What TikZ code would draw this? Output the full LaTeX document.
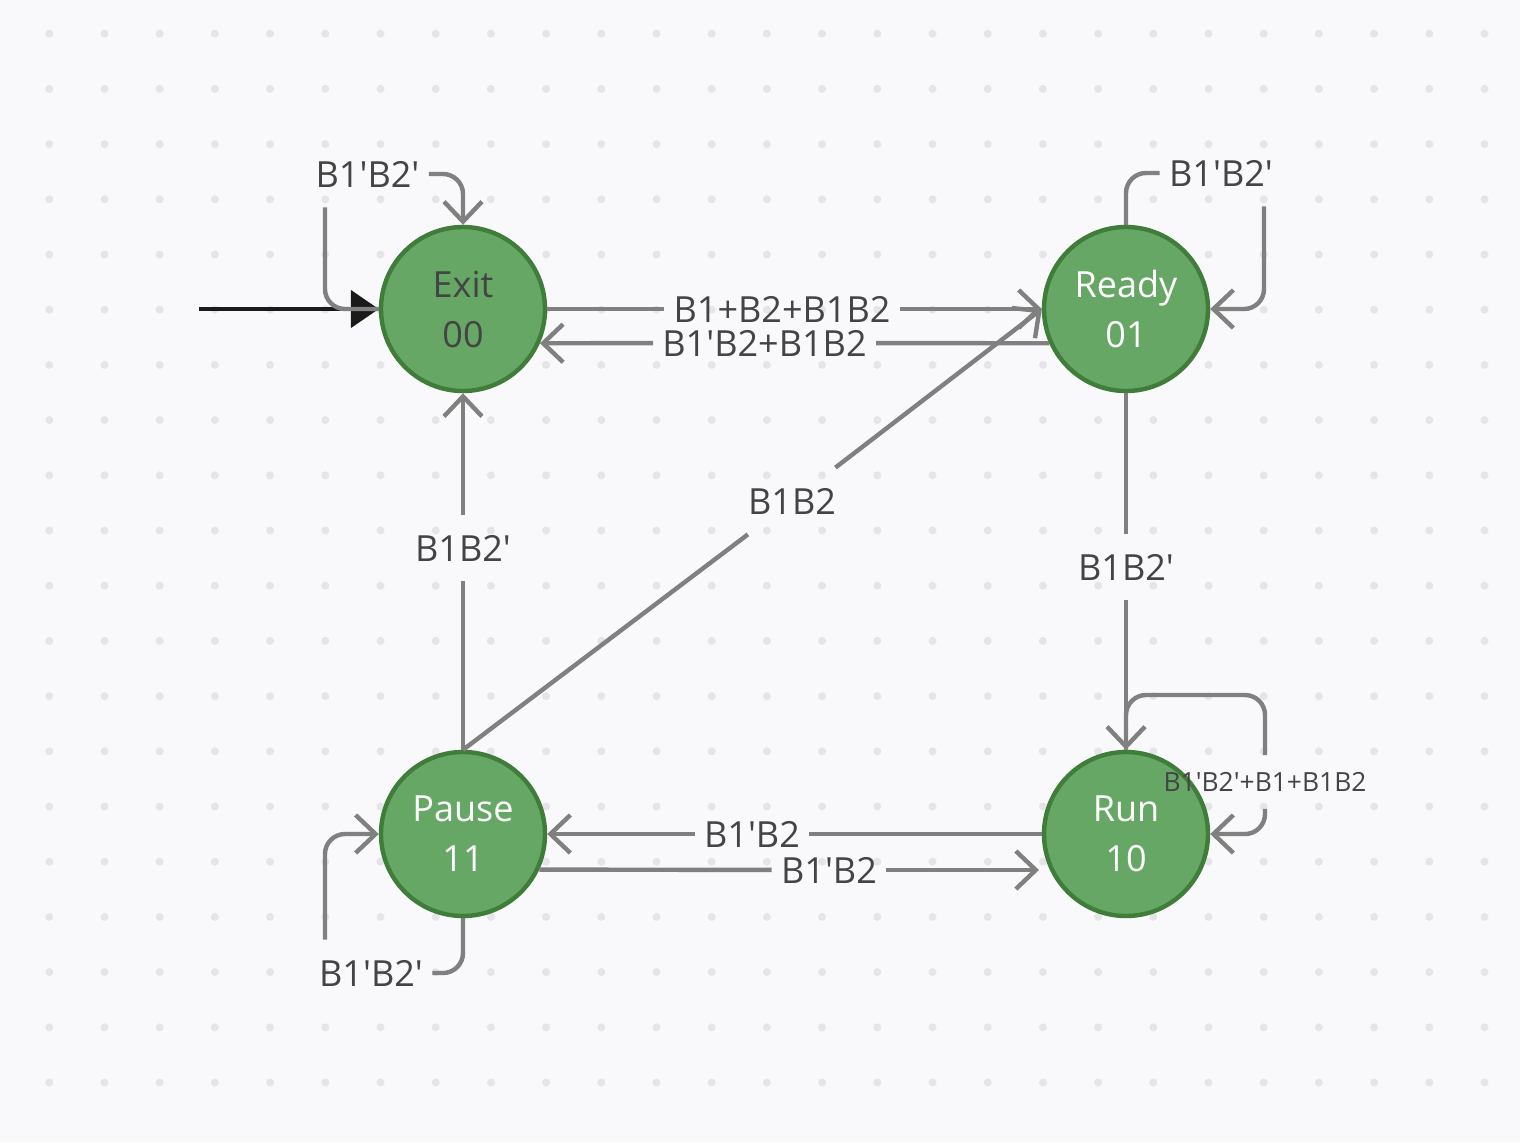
\documentclass[tikz,border=0pt]{standalone}
\usepackage{fontspec}
\setmainfont{Open Sans}[Ligatures=TeXOff]
\usetikzlibrary{arrows.meta}
\definecolor{bgc}{HTML}{F9F9FB}
\definecolor{dotc}{HTML}{E5E5E9}
\definecolor{edgec}{HTML}{808080}
\definecolor{gfill}{HTML}{67A766}
\definecolor{gdraw}{HTML}{407C3A}
\definecolor{txtc}{HTML}{444444}
\definecolor{initc}{HTML}{1A1A1A}
\begin{document}
\begin{tikzpicture}[x=0.5pt,y=-0.5pt,
  stnode/.style={circle, draw=gdraw, fill=gfill, line width=2.2pt, minimum size=82pt, inner sep=0pt, align=center, font=\fontsize{18pt}{25pt}\selectfont, text=white},
  lbl/.style={inner xsep=4.5pt, inner ysep=0pt, minimum height=33pt, text=txtc, font=\fontsize{18pt}{22pt}\selectfont},
  lbls/.style={inner xsep=4pt, inner ysep=0pt, minimum height=26.5pt, text=txtc, font=\fontsize{13.2pt}{16pt}\selectfont},
  conn/.style={draw=edgec, line width=2.2pt, rounded corners=10pt},
  arr/.style={-{Straight Barb[length=10pt,width=19pt]}},
]
\useasboundingbox (0,0) rectangle (1520,1142);
\fill[bgc] (0,0) rectangle (1520,1142);
\foreach \i in {0,...,26}{
  \foreach \j in {0,...,19}{
    \fill[dotc] ({49.3+55.2*\i},{33.7+55.2*\j}) circle (2pt);
  }
}
% states
\node[stnode, text=txtc] (exit) at (463,309) {Exit\\00};
\node[stnode] (ready) at (1126,309) {Ready\\01};
\node[stnode] (pause) at (463,834) {Pause\\11};
\node[stnode] (run) at (1126,834) {Run\\10};
% labels
\node[lbl] (lexit) at (367.5,174) {B1'B2'};
\node[lbl] (lready) at (1221,173) {B1'B2'};
\node[lbl] (lpause) at (371,973) {B1'B2'};
\node[lbls] (lrun) at (1265,782) {B1'B2'+B1+B1B2};
\node[lbl] (ler) at (782,309) {B1+B2+B1B2};
\node[lbl] (lre) at (764.5,343) {B1'B2+B1B2};
\node[lbl] (lpe) at (463,548) {B1B2'};
\node[lbl] (lrr) at (1126,567) {B1B2'};
\node[lbl] (ldiag) at (792,501) {B1B2};
\node[lbl] (lrp) at (752,834) {B1'B2};
\node[lbl] (lpr) at (829,870) {B1'B2};
\coordinate (start) at (199,309);
\coordinate (runin) at (1039,870);
% initial arrow
\draw[initc, line width=2.4pt, -{Triangle[length=14pt,width=18.5pt]}] (start) -- (exit.west);
% self loops
\draw[conn] (exit.west) -| (325,0 |- lexit.south);
\draw[conn,arr] (lexit.east) -| (exit.north);
\draw[conn] (ready.north) |- (lready.west);
\draw[conn,arr] (1264,0 |- lready.south) |- (ready.east);
\draw[conn] (pause.south) |- (lpause.east);
\draw[conn,arr] (325,0 |- lpause.north) |- (pause.west);
\draw[conn] (run.north) -- (run.north |- 0,695) -| (lrun.north);
\draw[conn,arr] (lrun.south) |- (run.east);
% transitions
\draw[conn] (exit.east) -- (ler);
\draw[conn,arr] (ler) -- (ready.west);
\draw[conn] (ready.204) -- (lre);
\draw[conn,arr] (lre) -- (exit.-24);
\draw[conn] (pause.north) -- (lpe);
\draw[conn,arr] (lpe) -- (exit.south);
\draw[conn] (ready.south) -- (lrr);
\draw[conn,arr] (lrr) -- (run.north);
\draw[conn] (pause.north) -- (ldiag);
\draw[conn,arr] (ldiag) -- (ready.west);
\draw[conn] (run.west) -- (lrp);
\draw[conn,arr] (lrp) -- (pause.east);
\draw[conn] (pause.-25.4) -- (lpr);
\draw[conn,arr] (lpr) -- (runin);
\end{tikzpicture}
\end{document}
